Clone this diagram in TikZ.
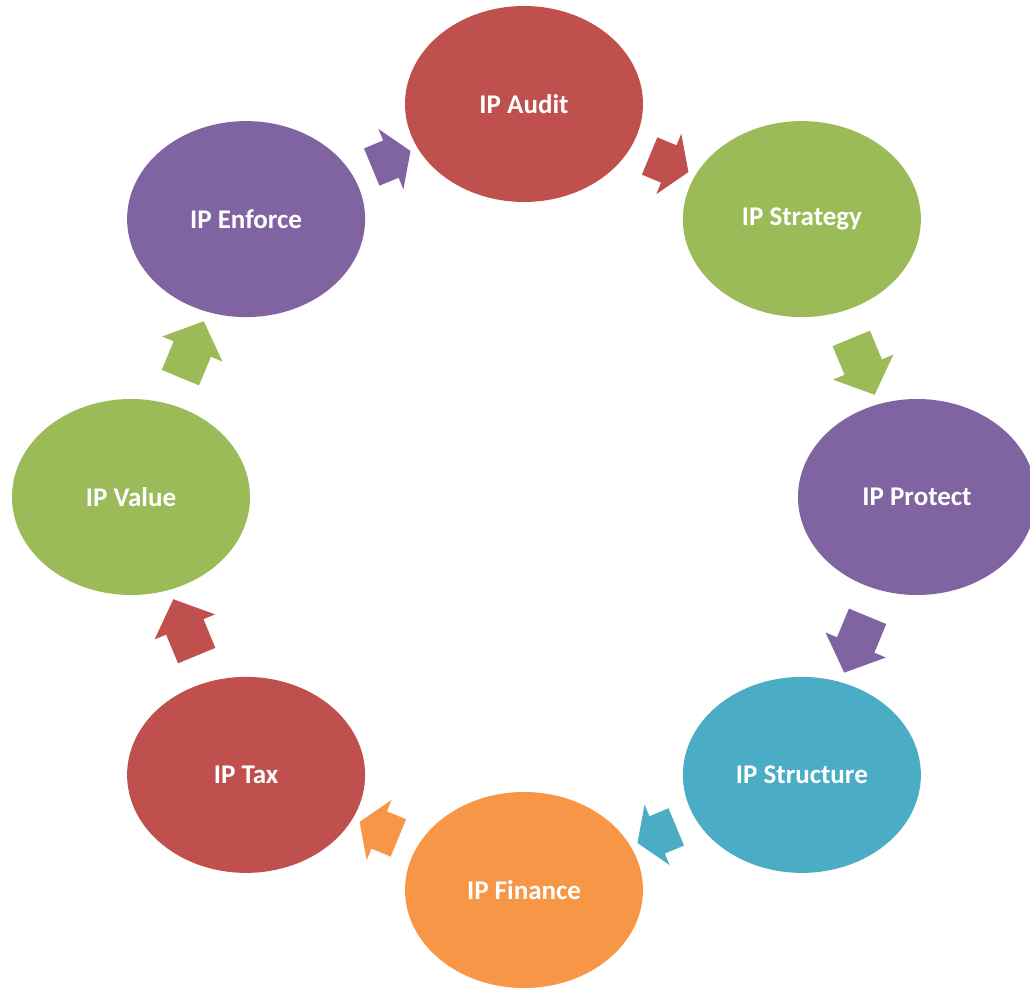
\documentclass[tikz,border=0pt]{standalone}
\usepackage{fontspec}
\setmainfont{Carlito}
\usepackage{xcolor}
\usetikzlibrary{shapes.geometric,shapes.arrows}
\definecolor{ipred}{HTML}{C0504D}
\definecolor{ipgreen}{HTML}{9BBB59}
\definecolor{ippurple}{HTML}{8064A2}
\definecolor{ipblue}{HTML}{4BACC6}
\definecolor{iporange}{HTML}{F79646}
\tikzset{
  ipnode/.style={ellipse, minimum width=238pt, minimum height=196pt, inner sep=0pt,
    text=white, font=\bfseries\fontsize{27}{32}\selectfont},
  iparrow/.style={single arrow, single arrow head extend=12.5pt,
    inner xsep=0pt, inner ysep=20pt, sloped, allow upside down}
}
\begin{document}
\begin{tikzpicture}
      \useasboundingbox (-524pt,-495pt) rectangle (506pt,497pt);
      \node[ipnode, fill=ipred]    (audit)     at (90:393pt)  {IP Audit};
      \node[ipnode, fill=ipgreen]  (strategy)  at (45:393pt)  {IP Strategy};
      \node[ipnode, fill=ippurple] (protect)   at (0:393pt)   {IP Protect};
      \node[ipnode, fill=ipblue]   (structure) at (-45:393pt) {IP Structure};
      \node[ipnode, fill=iporange] (finance)   at (-90:393pt) {IP Finance};
      \node[ipnode, fill=ipred]    (tax)       at (-135:393pt) {IP Tax};
      \node[ipnode, fill=ipgreen]  (value)     at (180:393pt) {IP Value};
      \node[ipnode, fill=ippurple] (enforce)   at (135:393pt) {IP Enforce};
      \foreach \a/\b/\c/\len/\tip in {audit/strategy/ipred/42/114,
          strategy/protect/ipgreen/61/95, protect/structure/ippurple/61/95,
          structure/finance/ipblue/42/114, finance/tax/iporange/42/114,
          tax/value/ipred/61/95, value/enforce/ipgreen/61/95,
          enforce/audit/ippurple/42/114}
        \path (\a) -- node[iparrow, fill=\c, minimum height=\len pt,
          single arrow tip angle=\tip] {} (\b);
\end{tikzpicture}
\end{document}
